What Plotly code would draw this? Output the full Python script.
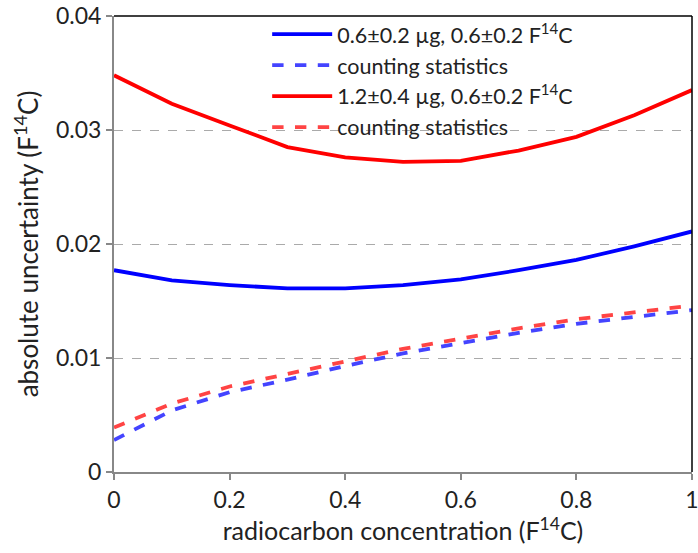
import plotly.graph_objects as go

x_vals = [0.0, 0.1, 0.2, 0.3, 0.4, 0.5, 0.6, 0.7, 0.8, 0.9, 1.0]

blue_total = [0.0177, 0.0168, 0.0164, 0.0161, 0.0161, 0.0164, 0.0169, 0.0177, 0.0186, 0.0198, 0.0211]
blue_counting = [0.0028, 0.0054, 0.0070, 0.0081, 0.0093, 0.0104, 0.0113, 0.0122, 0.0130, 0.0136, 0.0142]
red_total = [0.0348, 0.0323, 0.0304, 0.0285, 0.0276, 0.0272, 0.0273, 0.0282, 0.0294, 0.0313, 0.0335]
red_counting = [0.0039, 0.0060, 0.0075, 0.0086, 0.0097, 0.0108, 0.0117, 0.0126, 0.0134, 0.0140, 0.0146]

series_names = ["0.6±0.2 µg, 0.6±0.2 F<sup>14</sup>C", "counting statistics",
                "1.2±0.4 µg, 0.6±0.2 F<sup>14</sup>C", "counting statistics"]

x_ticks = [0, 0.2, 0.4, 0.6, 0.8, 1.0]
x_ticklabels = ["0", "0.2", "0.4", "0.6", "0.8", "1"]
y_ticks = [0, 0.01, 0.02, 0.03, 0.04]
y_ticklabels = ["0", "0.01", "0.02", "0.03", "0.04"]

FONT = "Lato, Carlito, Calibri, sans-serif"

fig = go.Figure()
fig.add_trace(go.Scatter(x=x_vals, y=blue_total, mode="lines", name=series_names[0],
                         line=dict(color="#0000ff", width=3.8)))
fig.add_trace(go.Scatter(x=x_vals, y=blue_counting, mode="lines", name=series_names[1],
                         line=dict(color="#4444ff", width=3.8, dash="dash")))
fig.add_trace(go.Scatter(x=x_vals, y=red_total, mode="lines", name=series_names[2],
                         line=dict(color="#ff0000", width=3.8)))
fig.add_trace(go.Scatter(x=x_vals, y=red_counting, mode="lines", name=series_names[3],
                         line=dict(color="#ff4444", width=3.8, dash="dash")))

fig.update_layout(
    width=698, height=553,
    margin=dict(l=114, r=6, t=16, b=81, autoexpand=False),
    paper_bgcolor="white", plot_bgcolor="white",
    font=dict(family=FONT, size=23, color="#222"),
    showlegend=True,
    legend=dict(x=0.265, y=1.005, xanchor="left", yanchor="top",
                bgcolor="rgba(255,255,255,0)", borderwidth=0,
                font=dict(size=21.5), tracegroupgap=0, itemwidth=60),
    xaxis=dict(range=[0, 1], tickvals=x_ticks, ticktext=x_ticklabels,
               showgrid=False, zeroline=False, showline=True, linecolor="#888888", linewidth=2,
               ticks="outside", ticklen=6, tickcolor="#888888", tickwidth=1.5,
               ticklabeloverflow="allow", tickfont=dict(size=23), automargin=False,
               title=dict(text="radiocarbon concentration (F<sup>14</sup>C)", standoff=6,
                          font=dict(size=25))),
    yaxis=dict(range=[0, 0.04], tickvals=y_ticks, ticktext=y_ticklabels,
               showgrid=True, gridcolor="#aaaaaa", gridwidth=1, griddash="dash",
               zeroline=False, showline=True, linecolor="#888888", linewidth=2,
               ticks="outside", ticklen=6, tickcolor="#888888", tickwidth=1.5,
               tickfont=dict(size=23), automargin=False,
               title=dict(text="absolute uncertainty (F<sup>14</sup>C)", standoff=10,
                          font=dict(size=26))),
)

fig.add_shape(type="line", xref="paper", yref="paper", x0=0, x1=1, y0=1, y1=1,
              line=dict(color="black", width=1.5))
fig.add_shape(type="line", xref="paper", yref="paper", x0=1, x1=1, y0=0, y1=1,
              line=dict(color="black", width=1.5))

fig.write_html("out.html")
